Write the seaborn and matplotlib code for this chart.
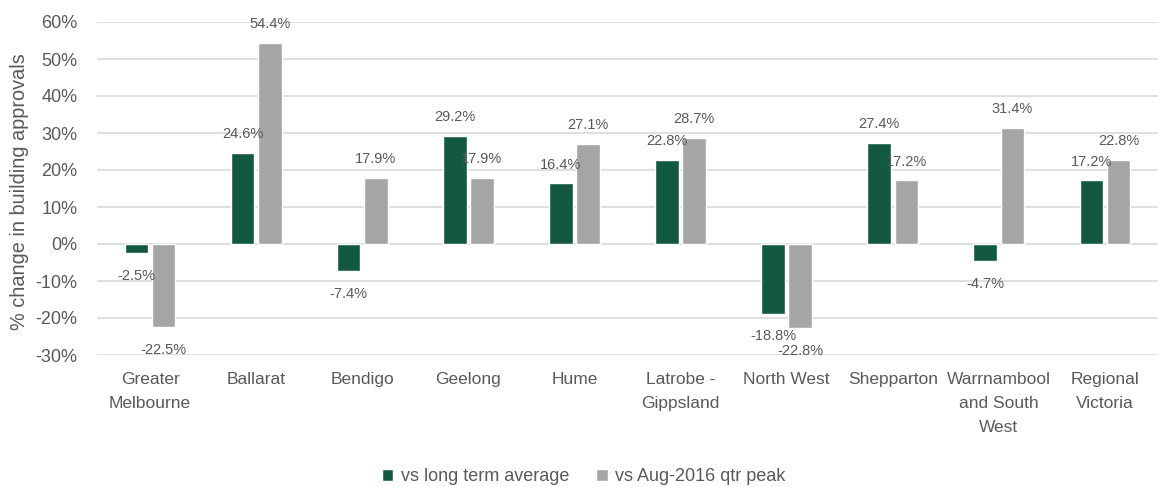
import matplotlib
matplotlib.use("Agg")
import matplotlib.pyplot as plt
import seaborn as sns
import pandas as pd
from matplotlib.ticker import FuncFormatter

regions = ["Greater\nMelbourne", "Ballarat", "Bendigo", "Geelong", "Hume",
           "Latrobe -\nGippsland", "North West", "Shepparton",
           "Warrnambool\nand South\nWest", "Regional\nVictoria"]
long_term = [-2.5, 24.6, -7.4, 29.2, 16.4, 22.8, -18.8, 27.4, -4.7, 17.2]
aug_peak = [-22.5, 54.4, 17.9, 17.9, 27.1, 28.7, -22.8, 17.2, 31.4, 22.8]
series = ["vs long term average", "vs Aug-2016 qtr peak"]
yticks = [-30, -20, -10, 0, 10, 20, 30, 40, 50, 60]

df = pd.DataFrame({
    "region": regions * 2,
    "value": long_term + aug_peak,
    "series": [series[0]] * len(regions) + [series[1]] * len(regions),
})

sns.set_theme(style="white")
plt.rcParams["font.family"] = ["Liberation Sans Narrow", "Liberation Sans", "DejaVu Sans"]
TXT = "#595959"

fig = plt.figure(figsize=(11.6, 4.87), dpi=100)
ax = fig.add_axes([97 / 1160, 1 - 355 / 487, (1158 - 97) / 1160, (355 - 22) / 487])

sns.barplot(data=df, x="region", y="value", hue="series", order=regions,
            hue_order=series, palette=["#135841", "#A5A5A5"],
            width=0.512, gap=0.13, ax=ax, legend=True, saturation=1)

ax.set_ylim(-30, 60)
ax.set_xlim(-0.5, len(regions) - 0.5)
ax.set_yticks(yticks)
ax.yaxis.set_major_formatter(FuncFormatter(lambda v, p: f"{v:.0f}%"))
ax.grid(axis="y", color="#D9D9D9", linewidth=1.2)
ax.set_axisbelow(True)
for s in ax.spines.values():
    s.set_visible(False)
ax.tick_params(axis="y", length=0, pad=14, labelsize=13, labelcolor=TXT)
ax.set_xticks(range(len(regions)))
ax.set_xticklabels(regions, linespacing=1.75)
ax.tick_params(axis="x", length=0, pad=12, labelsize=12.5, labelcolor=TXT)
ax.set_xlabel("")
ax.set_ylabel("% change in building approvals", fontsize=14.3, color=TXT)
ax.yaxis.set_label_coords(-0.064, 0.49)

for cont in ax.containers:
    for bar in cont:
        h = bar.get_height()
        x = bar.get_x() + bar.get_width() / 2
        off = 13.5 if h >= 0 else -16.5
        ax.annotate(f"{h:.1f}%", (x, h), xytext=(0, off), textcoords="offset points",
                    ha="center", va="center", fontsize=10.5, color=TXT)

handles, labels = ax.get_legend_handles_labels()
ax.get_legend().remove()
fig.legend(handles, labels, loc="lower center", bbox_to_anchor=(0.503, -0.03), ncol=2,
           frameon=False, fontsize=13, labelcolor=TXT, handlelength=0.65,
           handleheight=0.65, handletextpad=0.4, columnspacing=1.5)

fig.savefig("out.png", dpi=100)
